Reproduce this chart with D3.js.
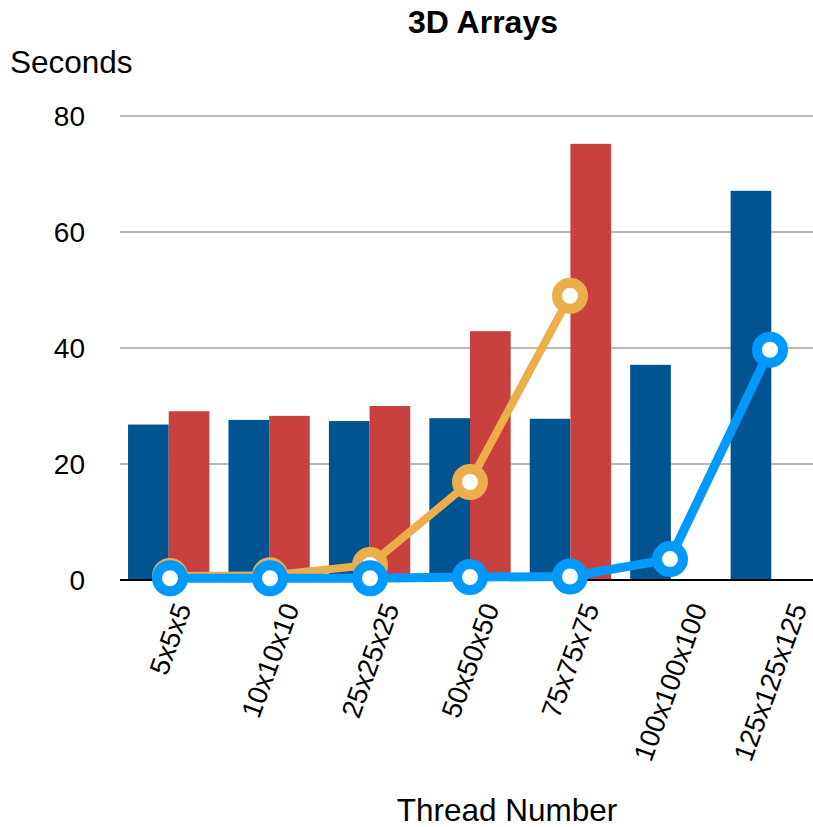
<!DOCTYPE html>
<html>
<head>
<meta charset="utf-8">
<script src="https://cdn.jsdelivr.net/npm/d3@7/dist/d3.min.js"></script>
<style>
  html, body { margin: 0; padding: 0; background: #fff; }
  svg { display: block; font-family: "Liberation Sans", Arial, Helvetica, sans-serif; }
</style>
</head>
<body>
<svg id="chart" width="813" height="827"></svg>
<script>
// Array sizes on the x axis
const categories = ["5x5x5", "10x10x10", "25x25x25", "50x50x50", "75x75x75", "100x100x100", "125x125x125"];
// Bar series (seconds)
const barBlue = [26.8, 27.6, 27.4, 27.9, 27.8, 37.1, 67.1];
const barRed  = [29.1, 28.3, 30.0, 42.9, 75.2, null, null];
// Line series (seconds)
const lineOrange = [0.7, 0.8, 2.6, 16.9, 49.0, null, null];
const lineBlue   = [0.3, 0.3, 0.3, 0.5, 0.6, 3.6, 39.7];
// Y axis ticks
const yTicks = [0, 20, 40, 60, 80];

const colors = {
  barBlue: "#00548f",
  barRed: "#c9413f",
  lineOrange: "#ecad4b",
  lineBlue: "#0099ff",
  grid: "#b9b9b9"
};

const svg = d3.select("#chart");
const W = 813;

const x0 = d3.scaleBand().domain(categories).range([120, 820]).paddingInner(0.19).paddingOuter(0.08);
const xc = d3.scaleBand().domain(categories).range([120, 820]);
const x1 = d3.scaleBand().domain(["blue", "red"]).range([0, x0.bandwidth()]);
const y = d3.scaleLinear().domain([0, 80]).range([580, 116]);
const cx = c => xc(c) + xc.bandwidth() / 2;

// Title and axis titles
svg.append("text").attr("x", 483).attr("y", 33).attr("text-anchor", "middle")
  .attr("font-size", 32).attr("font-weight", "bold").text("3D Arrays");
svg.append("text").attr("x", 10).attr("y", 73).attr("font-size", 31.5).text("Seconds");
svg.append("text").attr("x", 507).attr("y", 821).attr("text-anchor", "middle")
  .attr("font-size", 31.5).text("Thread Number");

// Horizontal gridlines
svg.append("g").selectAll("line").data(yTicks.filter(d => d > 0)).join("line")
  .attr("x1", 120).attr("x2", W)
  .attr("y1", d => y(d)).attr("y2", d => y(d))
  .attr("stroke", colors.grid).attr("stroke-width", 2);

// Y tick labels
svg.append("g").selectAll("text").data(yTicks).join("text")
  .attr("x", 85).attr("y", d => y(d)).attr("dy", "0.36em")
  .attr("text-anchor", "end").attr("font-size", 28).text(d => d);

// Bars
const barData = [];
categories.forEach((c, i) => {
  if (barBlue[i] != null) barData.push({ c, k: "blue", v: barBlue[i] });
  if (barRed[i] != null) barData.push({ c, k: "red", v: barRed[i] });
});
svg.append("g").selectAll("rect").data(barData).join("rect")
  .attr("x", d => x0(d.c) + x1(d.k))
  .attr("width", x1.bandwidth())
  .attr("y", d => y(d.v))
  .attr("height", d => y(0) - y(d.v))
  .attr("fill", d => d.k === "blue" ? colors.barBlue : colors.barRed);

// Baseline
svg.append("line").attr("x1", 120).attr("x2", W).attr("y1", y(0)).attr("y2", y(0))
  .attr("stroke", "#000").attr("stroke-width", 2);

// Line series with ring markers
function drawLine(values, color, width) {
  const pts = categories.map((c, i) => ({ c, v: values[i] })).filter(d => d.v != null);
  const g = svg.append("g");
  g.append("path").datum(pts)
    .attr("d", d3.line().x(d => cx(d.c)).y(d => y(d.v)))
    .attr("fill", "none").attr("stroke", color).attr("stroke-width", width)
    .attr("stroke-linejoin", "round");
  g.selectAll("circle").data(pts).join("circle")
    .attr("cx", d => cx(d.c)).attr("cy", d => y(d.v)).attr("r", 13)
    .attr("fill", "#fff").attr("stroke", color).attr("stroke-width", 10);
}
drawLine(lineOrange, colors.lineOrange, 8);
drawLine(lineBlue, colors.lineBlue, 9);

// Rotated category labels, centred under each category
const fs = 27.5, angle = -70, rad = angle * Math.PI / 180;
const ca = Math.cos(rad), sa = Math.sin(rad);
const labels = svg.append("g").selectAll("text").data(categories).join("text")
  .attr("font-size", fs).attr("x", 0).attr("y", 0).text(d => d);
labels.each(function (d) {
  const L = this.getComputedTextLength();
  const h = 0.716 * fs;
  const corners = [[0, 0], [L, 0], [0, -h], [L, -h]].map(([px, py]) => [px * ca - py * sa, px * sa + py * ca]);
  const minX = d3.min(corners, p => p[0]), maxX = d3.max(corners, p => p[0]);
  const minY = d3.min(corners, p => p[1]);
  const tx = cx(d) - (minX + maxX) / 2;
  const ty = 601 - minY;
  d3.select(this).attr("transform", `translate(${tx},${ty}) rotate(${angle})`);
});
</script>
</body>
</html>
